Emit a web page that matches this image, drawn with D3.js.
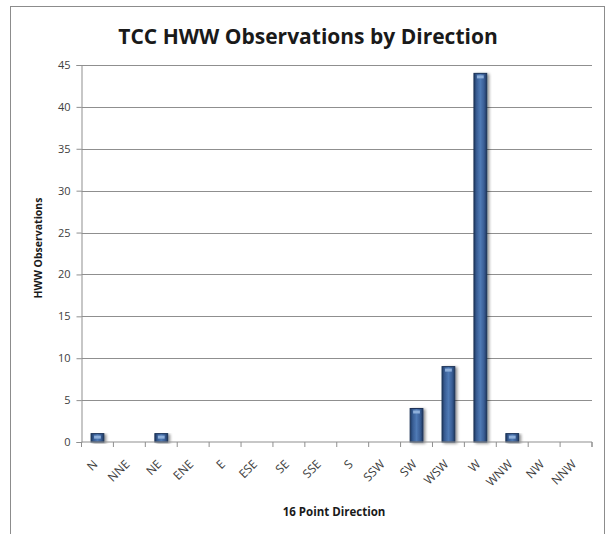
<!DOCTYPE html>
<meta charset="utf-8">
<style>
  body { margin: 0; background: #fff; }
  text { font-family: "Open Sans", "DejaVu Sans", sans-serif; }
</style>
<script src="https://d3js.org/d3.v7.min.js"></script>
<div id="chart"></div>
<script>
  // the data
  var directions = ["N", "NNE", "NE", "ENE", "E", "ESE", "SE", "SSE", "S", "SSW", "SW", "WSW", "W", "WNW", "NW", "NNW"]
  var observations = [1, 0, 1, 0, 0, 0, 0, 0, 0, 0, 4, 9, 44, 1, 0, 0]
  var yTicks = [0, 5, 10, 15, 20, 25, 30, 35, 40, 45]

  var width = 607, height = 534
  var margin = {left: 81.5, right: 15, top: 65, bottom: 92}

  var svg = d3.select("#chart").append("svg")
    .attr("width", width).attr("height", height)

  // outer frame of the chart
  svg.append("rect")
    .attr("x", 10.5).attr("y", 6.5)
    .attr("width", 594).attr("height", 540)
    .attr("fill", "none").attr("stroke", "#8c8c8c")

  var x = d3.scaleBand()
    .domain(directions)
    .range([margin.left, width - margin.right])
    .paddingInner(0.6).paddingOuter(0.3)

  var band = d3.scaleBand().domain(directions).range([margin.left, width - margin.right])

  var y = d3.scaleLinear()
    .domain([0, 45])
    .range([height - margin.bottom, margin.top])

  // gridlines
  svg.append("g")
    .selectAll("line")
    .data(yTicks.filter(function(d) { return d > 0 }))
    .enter().append("line")
      .attr("x1", margin.left).attr("x2", width - margin.right)
      .attr("y1", function(d) { return Math.round(y(d)) + 0.5 })
      .attr("y2", function(d) { return Math.round(y(d)) + 0.5 })
      .attr("stroke", "#8f8f8f")

  // bar gradient
  var defs = svg.append("defs")
  var grad = defs.append("linearGradient").attr("id", "barGrad")
    .attr("x1", "0").attr("x2", "1").attr("y1", "0").attr("y2", "0")
  grad.append("stop").attr("offset", "0%").attr("stop-color", "#1f3a63")
  grad.append("stop").attr("offset", "22%").attr("stop-color", "#3a5f96")
  grad.append("stop").attr("offset", "50%").attr("stop-color", "#4f7ab5")
  grad.append("stop").attr("offset", "78%").attr("stop-color", "#3a5f96")
  grad.append("stop").attr("offset", "100%").attr("stop-color", "#1f3a63")
  var shadow = defs.append("filter").attr("id", "shadow")
    .attr("x", "-50%").attr("y", "-10%").attr("width", "200%").attr("height", "130%")
  shadow.append("feGaussianBlur").attr("in", "SourceAlpha").attr("stdDeviation", 1.5)
  shadow.append("feOffset").attr("dx", 2).attr("dy", 1).attr("result", "blur")
  shadow.append("feComponentTransfer").append("feFuncA").attr("type", "linear").attr("slope", 0.45)
  var merge = shadow.append("feMerge")
  merge.append("feMergeNode")
  merge.append("feMergeNode").attr("in", "SourceGraphic")

  var bars = svg.append("g")
    .selectAll("g")
    .data(directions.map(function(d, i) { return {dir: d, value: observations[i]} })
      .filter(function(d) { return d.value > 0 }))
    .enter().append("g")

  bars.append("rect")
    .attr("x", function(d) { return x(d.dir) })
    .attr("y", function(d) { return y(d.value) })
    .attr("width", x.bandwidth())
    .attr("height", function(d) { return y(0) - y(d.value) })
    .attr("fill", "url(#barGrad)")
    .attr("stroke", "#1b3358").attr("stroke-width", 1)
    .attr("filter", "url(#shadow)")

  // light cap on top of each bar
  bars.append("rect")
    .attr("x", function(d) { return x(d.dir) + 3 })
    .attr("y", function(d) { return y(d.value) + 2 })
    .attr("width", x.bandwidth() - 6)
    .attr("height", 3)
    .attr("fill", "#8fb0db")

  // axes
  var yAxis = svg.append("g")
    .attr("transform", "translate(" + margin.left + ",0)")
    .call(d3.axisLeft(y).tickValues(yTicks).tickSize(5).tickPadding(6))
  yAxis.select(".domain").attr("stroke", "#8f8f8f")
  yAxis.selectAll(".tick line").attr("stroke", "#8f8f8f")
  yAxis.selectAll("text").attr("fill", "#404040").style("font-size", "11px")

  var xAxis = svg.append("g")
    .attr("transform", "translate(0," + y(0) + ")")
    .call(d3.axisBottom(band).tickSize(5).tickFormat(""))
  xAxis.select(".domain").attr("stroke", "#8f8f8f").attr("d",
    "M" + margin.left + ",5V0H" + (width - margin.right) + "V5")
  xAxis.selectAll(".tick").attr("transform", function(d) {
    return "translate(" + (band(d) + band.bandwidth()) + ",0)"
  })
  xAxis.selectAll(".tick line").attr("stroke", "#8f8f8f")

  // rotated category labels
  svg.append("g")
    .selectAll("text")
    .data(directions)
    .enter().append("text")
      .attr("transform", function(d) {
        return "translate(" + (band(d) + band.bandwidth() / 2 + 1) + "," + (y(0) + 23) + ") rotate(-45)"
      })
      .attr("text-anchor", "end")
      .attr("fill", "#404040")
      .style("font-size", "12px")
      .text(function(d) { return d })

  // titles
  svg.append("text")
    .attr("x", 308).attr("y", 44)
    .attr("text-anchor", "middle")
    .style("font-size", "21px").style("font-weight", "bold")
    .attr("fill", "#1a1a1a")
    .text("TCC HWW Observations by Direction")

  svg.append("text")
    .attr("transform", "translate(42,248) rotate(-90)")
    .attr("text-anchor", "middle")
    .style("font-size", "10.5px").style("font-weight", "bold")
    .attr("fill", "#1a1a1a")
    .text("HWW Observations")

  svg.append("text")
    .attr("x", 334).attr("y", 516)
    .attr("text-anchor", "middle")
    .style("font-size", "11.5px").style("font-weight", "bold")
    .attr("fill", "#1a1a1a")
    .text("16 Point Direction")
</script>
